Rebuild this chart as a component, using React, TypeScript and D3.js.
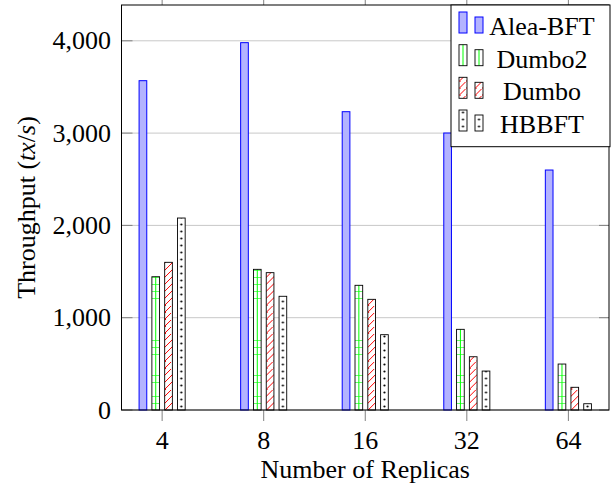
import React from "react";
import * as d3 from "d3";

const categories = ["4", "8", "16", "32", "64"];
const seriesNames = ["Alea-BFT", "Dumbo2", "Dumbo", "HBBFT"];
const aleaBFT = [3568, 3980, 3232, 3001, 2600];
const dumbo2 = [1444, 1524, 1351, 874, 498];
const dumbo = [1600, 1488, 1199, 577, 246];
const hbbft = [2080, 1232, 816, 422, 68];
const yTicks = [0, 1000, 2000, 3000, 4000];

const seriesValues = [aleaBFT, dumbo2, dumbo, hbbft];

const W = 613;
const H = 484;
const left = 121.5;
const right = 609;
const top = 5;
const bottom = 410;
const FONT = "Liberation Serif, Tinos, Times New Roman, DejaVu Serif, serif";
const FS = 26;
const textStyle: React.CSSProperties = { fontFamily: FONT, fontSize: FS };

const x = d3.scaleLinear().domain([-0.4, categories.length - 1 + 0.4]).range([left, right]);
const y = d3.scaleLinear().domain([0, 4388]).range([bottom, top]);
const inner = d3.scaleBand<string>().domain(seriesNames).range([-25.6, 25.6]).paddingInner(0.4).paddingOuter(0.2);
const bw = inner.bandwidth();

function patternFor(s: number, id: string, px: number, w: number) {
  const P = 7;
  const ox = px + w / 2 - P / 2;
  if (s === 1) {
    return (
      <pattern key={id} id={id} patternUnits="userSpaceOnUse" x={ox} y={bottom} width={P} height={P}>
        <rect width={P} height={P} fill="white" />
        <line x1={P / 2} y1={0} x2={P / 2} y2={P} stroke="#00ff00" strokeWidth={1} />
        <line x1={0} y1={0} x2={P} y2={0} stroke="#00ff00" strokeWidth={1.2} />
      </pattern>
    );
  }
  if (s === 2) {
    return (
      <pattern key={id} id={id} patternUnits="userSpaceOnUse" x={ox} y={bottom} width={P} height={P}>
        <rect width={P} height={P} fill="white" />
        <line x1={0} y1={P} x2={P} y2={0} stroke="#ff0000" strokeWidth={1} />
        <line x1={-1} y1={1} x2={1} y2={-1} stroke="#ff0000" strokeWidth={1} />
        <line x1={P - 1} y1={P + 1} x2={P + 1} y2={P - 1} stroke="#ff0000" strokeWidth={1} />
      </pattern>
    );
  }
  return (
    <pattern key={id} id={id} patternUnits="userSpaceOnUse" x={ox} y={bottom} width={P} height={P}>
      <rect width={P} height={P} fill="white" />
      <circle cx={P / 2} cy={P / 2} r={1.1} fill="black" />
    </pattern>
  );
}

export default function App() {
  const defs: React.ReactNode[] = [];
  const bars: React.ReactNode[] = [];
  seriesNames.forEach((name, s) => {
    seriesValues[s].forEach((v, i) => {
      const bx = x(i) + (inner(name) as number);
      const yTop = y(v);
      let fill = "#b3b3ff";
      let stroke = "#0000ff";
      if (s > 0) {
        const id = `pat-${s}-${i}`;
        defs.push(patternFor(s, id, bx, bw));
        fill = `url(#${id})`;
        stroke = "black";
      }
      bars.push(
        <rect key={`b-${s}-${i}`} x={bx} y={yTop} width={bw} height={bottom - yTop} fill={fill} stroke={stroke} strokeWidth={s === 0 ? 1 : 0.9} />
      );
    });
  });

  const legX0 = 451;
  const legX1 = 610;
  const legY0 = 5;
  const legY1 = 146.7;
  const rowBottoms = [33, 65.7, 98.3, 131];
  const legendItems = seriesNames.map((name, s) => {
    const b = rowBottoms[s];
    const r1x = 459;
    const r2x = 475;
    const w = 8;
    let fill1 = "#b3b3ff";
    let fill2 = "#b3b3ff";
    let stroke = "#0000ff";
    if (s > 0) {
      const id1 = `lp-${s}-a`;
      const id2 = `lp-${s}-b`;
      defs.push(patternFor(s, id1, r1x, w));
      defs.push(patternFor(s, id2, r2x, w));
      fill1 = `url(#${id1})`;
      fill2 = `url(#${id2})`;
      stroke = "black";
    }
    return (
      <g key={`leg-${s}`}>
        <rect x={r1x} y={b - 21} width={w} height={21} fill={fill1} stroke={stroke} strokeWidth={s === 0 ? 1 : 0.9} />
        <rect x={r2x} y={b - 16} width={w} height={16} fill={fill2} stroke={stroke} strokeWidth={s === 0 ? 1 : 0.9} />
        <text x={542} y={b + 2} textAnchor="middle" style={textStyle} fill="black">
          {name}
        </text>
      </g>
    );
  });

  return (
    <svg width={W} height={H} style={{ position: "absolute", left: 0, top: 0, background: "white" }}>
      <defs>{defs}</defs>
      <rect x={0} y={0} width={W} height={H} fill="white" />
      {yTicks.map((t) => (
        <line key={`g-${t}`} x1={left} x2={right} y1={y(t)} y2={y(t)} stroke="#c8c8c8" strokeWidth={1} />
      ))}
      {yTicks.map((t) => (
        <g key={`yt-${t}`}>
          <line x1={left} x2={left + 11} y1={y(t)} y2={y(t)} stroke="#808080" strokeWidth={1} />
          <line x1={right - 10} x2={right} y1={y(t)} y2={y(t)} stroke="#808080" strokeWidth={1} />
          <text x={111} y={y(t) + 8.5} textAnchor="end" style={textStyle} fill="black">
            {d3.format(",")(t)}
          </text>
        </g>
      ))}
      {categories.map((c, i) => (
        <g key={`xt-${c}`}>
          <line x1={x(i)} x2={x(i)} y1={bottom} y2={bottom + 11} stroke="#808080" strokeWidth={1} />
          <line x1={x(i)} x2={x(i)} y1={top} y2={top - 11} stroke="#808080" strokeWidth={1} />
          <text x={x(i)} y={449} textAnchor="middle" style={textStyle} fill="black">
            {c}
          </text>
        </g>
      ))}
      {bars}
      <rect x={left} y={top} width={right - left} height={bottom - top} fill="none" stroke="black" strokeWidth={1} />
      <rect x={legX0} y={legY0} width={legX1 - legX0} height={legY1 - legY0} fill="white" stroke="black" strokeWidth={1} />
      {legendItems}
      <text x={(left + right) / 2} y={478} textAnchor="middle" style={textStyle} fill="black">
        Number of Replicas
      </text>
      <text transform={`translate(35, ${(top + bottom) / 2}) rotate(-90)`} textAnchor="middle" style={textStyle} fill="black">
        Throughput (<tspan fontStyle="italic">tx</tspan>/<tspan fontStyle="italic">s</tspan>)
      </text>
    </svg>
  );
}
